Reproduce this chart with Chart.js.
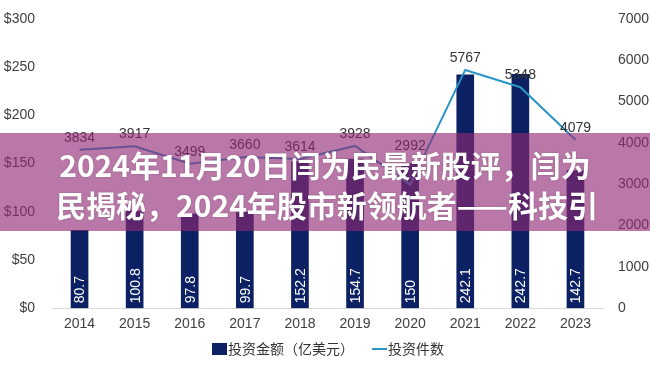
<!DOCTYPE html>
<html lang="zh">
  <head>
    <meta charset="UTF-8" />
    <title>投资金额与投资件数</title>
    <script src="https://cdn.jsdelivr.net/npm/chart.js"></script>
    <style>
      html, body { margin: 0; padding: 0; background: #ffffff; }
      #wrap { width: 650px; height: 367px; position: relative; }
    </style>
  </head>
  <body>
    <div id="wrap"><canvas id="chart"></canvas></div>

    <script>
      // data
      const years = ["2014", "2015", "2016", "2017", "2018", "2019", "2020", "2021", "2022", "2023"];
      const amounts = [80.7, 100.8, 97.8, 99.7, 152.2, 154.7, 150, 242.1, 242.7, 142.7];
      const deals = [3834, 3917, 3499, 3660, 3614, 3928, 2992, 5767, 5348, 4079];
      const leftTicks = [0, 50, 100, 150, 200, 250, 300];
      const rightTicks = [0, 1000, 2000, 3000, 4000, 5000, 6000, 7000];
      const titleLines = ["2024年11月20日闫为民最新股评，闫为", "民揭秘，2024年股市新领航者——科技引"];

      const navy = "#0c2163";
      const teal = "#2a95c5";
      const sans = "'Liberation Sans', Arial, sans-serif";
      const cjk = "'Noto Sans CJK SC', sans-serif";

      // value labels: rotated inside the bars, plain above the line
      const valueLabels = {
        id: "valueLabels",
        afterDatasetsDraw(chart) {
          const ctx = chart.ctx;
          const bars = chart.getDatasetMeta(0).data;
          ctx.save();
          ctx.font = "14px " + sans;
          ctx.fillStyle = "#ffffff";
          ctx.textAlign = "left";
          ctx.textBaseline = "middle";
          bars.forEach((bar, i) => {
            ctx.save();
            ctx.translate(bar.x, bar.base - 5);
            ctx.rotate(-Math.PI / 2);
            ctx.fillText(String(amounts[i]), 0, 1);
            ctx.restore();
          });
          const pts = chart.getDatasetMeta(1).data;
          ctx.fillStyle = "#333333";
          ctx.textAlign = "center";
          ctx.textBaseline = "bottom";
          pts.forEach((p, i) => {
            const lift = i === 6 ? 31 : 5;
            ctx.fillText(String(deals[i]), p.x, p.y - lift);
          });
          ctx.restore();
        },
      };

      // legend drawn by hand so the spacing matches
      const bottomLegend = {
        id: "bottomLegend",
        afterDraw(chart) {
          const ctx = chart.ctx;
          const ds = chart.data.datasets;
          const y = 349;
          ctx.save();
          ctx.font = "14px " + cjk;
          ctx.textBaseline = "middle";
          ctx.textAlign = "left";
          ctx.fillStyle = ds[0].backgroundColor;
          ctx.fillRect(212, y - 6, 15, 12);
          ctx.fillStyle = "#333333";
          ctx.fillText(ds[0].label, 228, y);
          ctx.strokeStyle = ds[1].borderColor;
          ctx.lineWidth = 2;
          ctx.beginPath();
          ctx.moveTo(372, y);
          ctx.lineTo(387, y);
          ctx.stroke();
          ctx.fillText(ds[1].label, 388, y);
          ctx.restore();
        },
      };

      // the title band laid over the picture
      const titleBand = {
        id: "titleBand",
        afterDraw(chart) {
          const ctx = chart.ctx;
          ctx.save();
          ctx.fillStyle = "rgba(144, 41, 117, 0.63)";
          ctx.fillRect(0, 133, chart.width, 98);
          ctx.fillStyle = "#ffffff";
          ctx.font = "bold 30px " + cjk;
          ctx.textAlign = "center";
          ctx.textBaseline = "middle";
          ctx.shadowColor = "rgba(0,0,0,0.25)";
          ctx.shadowBlur = 2;
          ctx.fillText(titleLines[0], 325, 166);
          ctx.fillText(titleLines[1], 327, 206);
          ctx.restore();
        },
      };

      const noPad = (s) => { s.paddingTop = 0; s.paddingBottom = 0; };

      new Chart(document.getElementById("chart"), {
        data: {
          labels: years,
          datasets: [
            {
              type: "bar",
              label: "投资金额（亿美元）",
              data: amounts,
              yAxisID: "y",
              backgroundColor: navy,
              borderWidth: 0,
              barThickness: 17,
              order: 2,
            },
            {
              type: "line",
              label: "投资件数",
              data: deals,
              yAxisID: "y1",
              borderColor: teal,
              backgroundColor: teal,
              borderWidth: 2,
              pointRadius: 0,
              tension: 0,
              order: 1,
            },
          ],
        },
        options: {
          responsive: true,
          maintainAspectRatio: false,
          animation: false,
          layout: { padding: { top: 19, left: 0, right: 0, bottom: 26 } },
          scales: {
            x: {
              grid: { display: false, drawTicks: false },
              border: { display: true, color: "#d9d9d9", width: 1 },
              ticks: { color: "#404040", font: { size: 14, family: sans }, padding: 8 },
            },
            y: {
              position: "left",
              min: 0,
              max: 300,
              afterBuildTicks: (s) => { s.ticks = leftTicks.map((v) => ({ value: v })); },
              afterFit: (s) => { s.width = 52; noPad(s); },
              grid: { display: false, drawTicks: false },
              border: { display: false },
              ticks: {
                color: "#404040",
                font: { size: 14, family: sans },
                padding: 17,
                callback: (v) => "$" + v,
              },
            },
            y1: {
              position: "right",
              min: 0,
              max: 7000,
              afterBuildTicks: (s) => { s.ticks = rightTicks.map((v) => ({ value: v })); },
              afterFit: (s) => { s.width = 47; noPad(s); },
              grid: { display: false, drawTicks: false },
              border: { display: false },
              ticks: {
                color: "#404040",
                font: { size: 14, family: sans },
                padding: 15,
                callback: (v) => String(v),
              },
            },
          },
          plugins: {
            legend: { display: false },
            tooltip: { enabled: false },
          },
        },
        plugins: [valueLabels, bottomLegend, titleBand],
      });
    </script>
  </body>
</html>
